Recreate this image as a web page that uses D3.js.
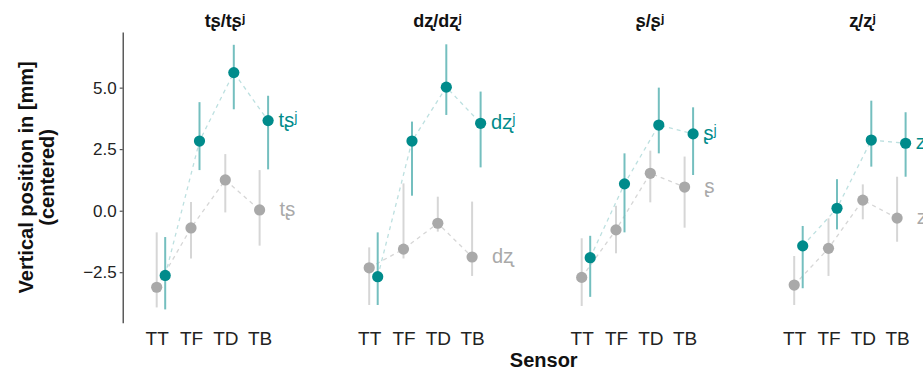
<!DOCTYPE html>
<html>
<head>
<meta charset="utf-8">
<script src="https://cdn.jsdelivr.net/npm/d3@7"></script>
<style>
  body { margin: 0; background: #fff; }
  text { font-family: "Liberation Sans", Arial, "DejaVu Sans", sans-serif; }
</style>
</head>
<body>
<script>
// Data
var sensors = ["TT", "TF", "TD", "TB"];
var panelTitles = ["tʂ/tʂʲ", "dʐ/dʐʲ", "ʂ/ʂʲ", "ʐ/ʐʲ"];
var plainLabels = ["tʂ", "dʐ", "ʂ", "ʐ"];
var palLabels = ["tʂʲ", "dʐʲ", "ʂʲ", "ʐʲ"];

// plain consonants (grey)
var plainMean = [[-3.11, -0.70, 1.25, 0.03], [-2.32, -1.56, -0.51, -1.88], [-2.71, -0.78, 1.52, 0.96], [-3.02, -1.53, 0.43, -0.30]];
var plainLo   = [[-3.93, -1.94, -0.07, -1.42], [-3.83, -1.94, -0.85, -2.65], [-3.87, -1.73, 0.34, -0.69], [-3.83, -2.65, -0.35, -1.26]];
var plainHi   = [[-0.88, 0.35, 2.30, 1.65], [-1.49, 1.11, 0.57, 0.37], [-1.12, 0.20, 2.44, 2.20], [-1.84, -0.31, 1.07, 1.38]];

// palatalised consonants (teal)
var palMean = [[-2.63, 2.83, 5.61, 3.66], [-2.68, 2.83, 5.02, 3.55], [-1.91, 1.09, 3.48, 3.12], [-1.43, 0.10, 2.87, 2.74]];
var palLo   = [[-4.01, 1.65, 4.12, 1.68], [-3.83, 0.61, 3.89, 1.76], [-3.50, -0.88, 2.33, 1.45], [-3.15, -0.76, 1.79, 1.38]];
var palHi   = [[-1.07, 4.41, 6.74, 4.67], [-0.88, 3.62, 6.76, 4.84], [-1.02, 2.33, 5.00, 4.20], [-0.62, 1.28, 4.47, 4.00]];

var yTicks = [-2.5, 0, 2.5, 5];

var width = 923, height = 374;
var plotTop = 32, plotBottom = 322.7;
var firstPanel = 122.7, panelStep = 212.5, panelWidth = 204.6;
var dodge = 8.5;

var teal = "#008b8b", tealLight = "#74bfbf", tealDash = "#bde0e0";
var grey = "#a9a9a9", greyLight = "#d6d6d6", greyDash = "#d6d6d6";

var svg = d3.select("body").append("svg")
  .attr("width", width)
  .attr("height", height);

var y = d3.scaleLinear().domain([-4.55, 7.26]).range([plotBottom, plotTop]);
var x = d3.scalePoint().domain(sensors).range([34, 34 + 3 * 34.3]);

// y axis (first panel only)
var yAxis = d3.axisLeft(y).tickValues(yTicks).tickFormat(d3.format(".1f"))
  .tickSize(3).tickSizeOuter(0);
var gy = svg.append("g")
  .attr("transform", "translate(" + firstPanel + ",0)")
  .call(yAxis);
gy.select(".domain").attr("stroke", "#333").attr("stroke-width", 1.2);
gy.selectAll(".tick line").attr("stroke", "#333");
gy.selectAll(".tick text").attr("fill", "#222").style("font-size", "17px").attr("x", -6);

// y title
var yTitle = svg.append("g").attr("transform", "translate(0," + ((plotTop + plotBottom) / 2) + ") rotate(-90)");
yTitle.append("text").attr("y", 33).attr("text-anchor", "middle")
  .style("font-size", "20px").style("font-weight", "bold").attr("fill", "#111")
  .text("Vertical position in [mm]");
yTitle.append("text").attr("y", 54).attr("text-anchor", "middle")
  .style("font-size", "20px").style("font-weight", "bold").attr("fill", "#111")
  .text("(centered)");

function series(g, mean, lo, hi, offset, light, dash) {
  var line = d3.line()
    .x(function(d, i) { return x(sensors[i]) + offset; })
    .y(function(d) { return y(d); });
  g.append("path")
    .datum(mean)
    .attr("d", line)
    .attr("fill", "none")
    .attr("stroke", dash)
    .attr("stroke-width", 1.3)
    .attr("stroke-dasharray", "4,4");
  g.selectAll(null)
    .data(mean)
    .enter()
    .append("line")
    .attr("x1", function(d, i) { return x(sensors[i]) + offset; })
    .attr("x2", function(d, i) { return x(sensors[i]) + offset; })
    .attr("y1", function(d, i) { return y(lo[i]); })
    .attr("y2", function(d, i) { return y(hi[i]); })
    .attr("stroke", light)
    .attr("stroke-width", 2);
}

function dots(g, mean, offset, col) {
  g.selectAll(null)
    .data(mean)
    .enter()
    .append("circle")
    .attr("cx", function(d, i) { return x(sensors[i]) + offset; })
    .attr("cy", function(d) { return y(d); })
    .attr("r", 5.6)
    .attr("fill", col);
}

panelTitles.forEach(function(title, p) {
  var g = svg.append("g")
    .attr("transform", "translate(" + (firstPanel + p * panelStep) + ",0)");

  series(g, plainMean[p], plainLo[p], plainHi[p], 0, greyLight, greyDash);
  series(g, palMean[p], palLo[p], palHi[p], dodge, tealLight, tealDash);
  dots(g, plainMean[p], 0, grey);
  dots(g, palMean[p], dodge, teal);

  // end labels
  g.append("text")
    .attr("x", x("TB") + 20)
    .attr("y", y(plainMean[p][3]) + 6)
    .attr("fill", grey)
    .style("font-size", "20px")
    .text(plainLabels[p]);
  g.append("text")
    .attr("x", x("TB") + 19)
    .attr("y", y(palMean[p][3]) + 6)
    .attr("fill", teal)
    .style("font-size", "20px")
    .text(palLabels[p]);

  // facet title
  g.append("text")
    .attr("x", panelWidth / 2)
    .attr("y", 27)
    .attr("text-anchor", "middle")
    .style("font-size", "18px")
    .style("font-weight", "bold")
    .attr("fill", "#111")
    .text(title);

  // x axis labels
  var gx = g.append("g")
    .attr("transform", "translate(0," + 331 + ")")
    .call(d3.axisBottom(x).tickSize(0));
  gx.select(".domain").remove();
  gx.selectAll(".tick text").attr("fill", "#222").style("font-size", "19px").attr("dy", "0.71em").attr("y", 0);
});

// x title
svg.append("text")
  .attr("x", (firstPanel + 3 * panelStep + panelWidth + firstPanel) / 2)
  .attr("y", 367)
  .attr("text-anchor", "middle")
  .style("font-size", "20px")
  .style("font-weight", "bold")
  .attr("fill", "#111")
  .text("Sensor");
</script>
</body>
</html>
